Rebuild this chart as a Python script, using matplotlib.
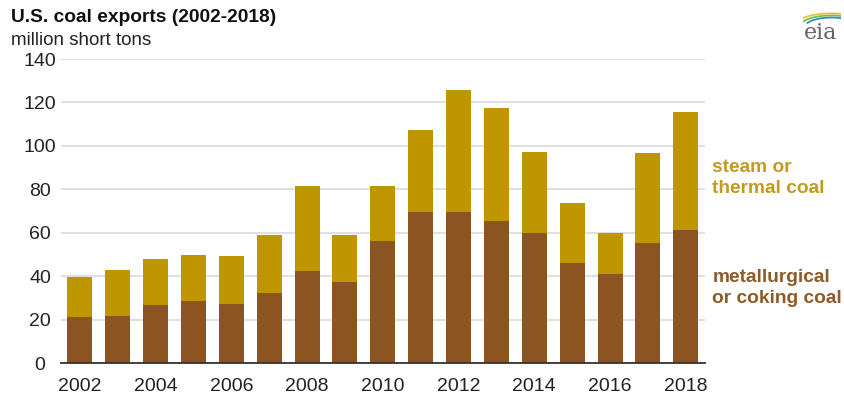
import matplotlib
matplotlib.use('Agg')
import matplotlib.pyplot as plt
import numpy as np

plt.rcParams['font.family'] = ['Liberation Sans', 'DejaVu Sans']

years = list(range(2002, 2019))
metallurgical = [21.2, 21.7, 26.7, 28.6, 27.2, 32.2, 42.4, 37.3, 56.0, 69.5, 69.8, 65.5, 59.9, 46.1, 41.0, 55.1, 61.4]
total = [39.6, 42.8, 47.9, 49.7, 49.3, 59.1, 81.6, 59.0, 81.7, 107.2, 125.8, 117.6, 97.2, 73.9, 60.1, 96.9, 115.7]
steam = [t - m for t, m in zip(total, metallurgical)]

yticks = [0, 20, 40, 60, 80, 100, 120, 140]
xticks = [2002, 2004, 2006, 2008, 2010, 2012, 2014, 2016, 2018]

c_met = '#8C5421'
c_steam = '#BF9600'

fig = plt.figure(figsize=(8.45, 3.99), dpi=100)
ax = fig.add_axes([0.072, 0.090, 0.762, 0.762])

ax.bar(years, metallurgical, width=0.66, color=c_met, zorder=2)
ax.bar(years, steam, width=0.66, bottom=metallurgical, color=c_steam, zorder=2)

ax.set_xlim(2001.5, 2018.5)
ax.set_ylim(0, 140)
ax.set_yticks(yticks)
ax.set_xticks(xticks)
ax.yaxis.grid(True, color='#DADADA', linewidth=1.2, zorder=0)
ax.tick_params(axis='both', length=0, labelsize=14, colors='#222222')
ax.tick_params(axis='y', pad=15)
ax.tick_params(axis='x', pad=11)
for lbl in ax.get_yticklabels():
    lbl.set_horizontalalignment('center')
for s in ['top', 'right', 'left']:
    ax.spines[s].set_visible(False)
ax.spines['bottom'].set_color('#333333')
ax.spines['bottom'].set_linewidth(1.3)
ax.spines['bottom'].set_zorder(3)

fig.text(0.013, 0.955, 'U.S. coal exports (2002-2018)', fontsize=13.8, fontweight='bold',
         color='#111111', va='center')
fig.text(0.013, 0.898, 'million short tons', fontsize=13.5, color='#222222', va='center')

fig.text(0.843, 0.555, 'steam or\nthermal coal', fontsize=13.8, fontweight='bold',
         color='#C29B1F', va='center', linespacing=1.3)
fig.text(0.843, 0.278, 'metallurgical\nor coking coal', fontsize=13.8, fontweight='bold',
         color='#8E5A26', va='center', linespacing=1.3)

# eia logo
fig.text(0.971, 0.918, 'eia', fontsize=16, family='DejaVu Serif', color='#666666',
         ha='center', va='center')
lax = fig.add_axes([0.950, 0.935, 0.045, 0.035])
lax.set_xlim(0, 1)
lax.set_ylim(0, 1)
lax.axis('off')
th = np.linspace(0.3 * np.pi, 0.85 * np.pi, 30)
for r, c in zip([1.0, 0.85, 0.7], ['#E8C33A', '#7DBE4A', '#2C8FC9']):
    lax.plot(0.75 + r * np.cos(th), -0.1 + r * np.sin(th), color=c, lw=1.3)

fig.savefig('out.png', dpi=100)
